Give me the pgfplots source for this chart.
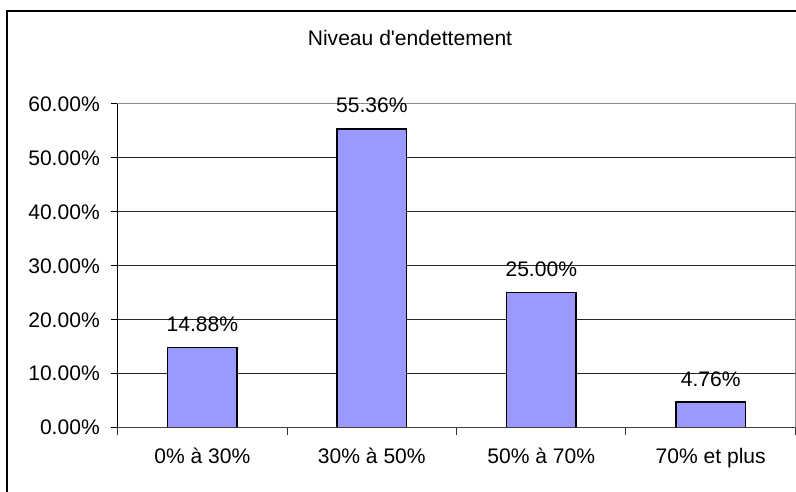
\documentclass[border=0pt]{standalone}
\usepackage{fontspec}
\setmainfont{Liberation Sans}[Ligatures=TeXOff]
\usepackage{pgfplots}
\pgfplotsset{compat=1.18}
\definecolor{barfill}{HTML}{9999FF}
\begin{document}
\begin{tikzpicture}[x=0.75pt,y=0.75pt,font=\fontsize{15.8}{19}\selectfont]
\begin{axis}[
  at={(202.4pt*0.75,64.3pt*0.75)}, anchor=origin,
  scale only axis, width=508.3pt, height=242.8pt,
  xmin=-0.5, xmax=3.5, ymin=0, ymax=60,
  axis line style={draw=gray!90, line width=0.75pt},
  xtick={0,1,2,3},
  xticklabels={0\% à 30\%, 30\% à 50\%, 50\% à 70\%, 70\% et plus},
  major x tick style={draw=none},
  minor xtick={-0.5,0.5,1.5,2.5,3.5},
  minor tick length=5.25pt,
  minor x tick style={draw=black!80, line width=0.75pt},
  ytick={0,10,20,30,40,50,60},
  yticklabel={\pgfmathprintnumber[fixed,fixed zerofill,precision=2]{\tick}\%},
  /pgf/number format/assume math mode=true,
  major tick length=5.25pt,
  y tick style={draw=black, line width=0.75pt},
  tick align=outside,
  xtick pos=bottom, ytick pos=left,
  ymajorgrids,
  major grid style={draw=black!85, line width=0.75pt},
  tick label style={font=\fontsize{15.8}{19}\selectfont},
  yticklabel style={anchor=east, inner sep=0pt, xshift=-8pt},
  xticklabel style={anchor=base, inner sep=0pt, yshift=-21.5pt},
  ybar, bar width=0.41,
  nodes near coords={\pgfmathprintnumber[fixed,fixed zerofill,precision=2]{\pgfplotspointmeta}\%},
  nodes near coords style={anchor=base, inner sep=0pt, yshift=12pt, font=\fontsize{15.8}{19}\selectfont},
  clip=false,
]
\addplot[fill=barfill, draw=black, line width=1pt] coordinates {(0,14.88) (1,55.36) (2,25.00) (3,4.76)};
\draw[black, line width=0.9pt] (axis cs:-0.5,0) -- (axis cs:-0.5,60);
\draw[black!75, line width=0.9pt] (axis cs:-0.5,0) -- (axis cs:3.5,0);
\end{axis}
\node[anchor=base,inner sep=0] at (410,446.3) {Niveau d'endettement};
\draw[black,line width=1.6pt] (7,-20) -- (7,481) -- (820,481);
\pgfresetboundingbox
\path[use as bounding box] (0,0) rectangle (796,492);
\end{tikzpicture}
\end{document}
